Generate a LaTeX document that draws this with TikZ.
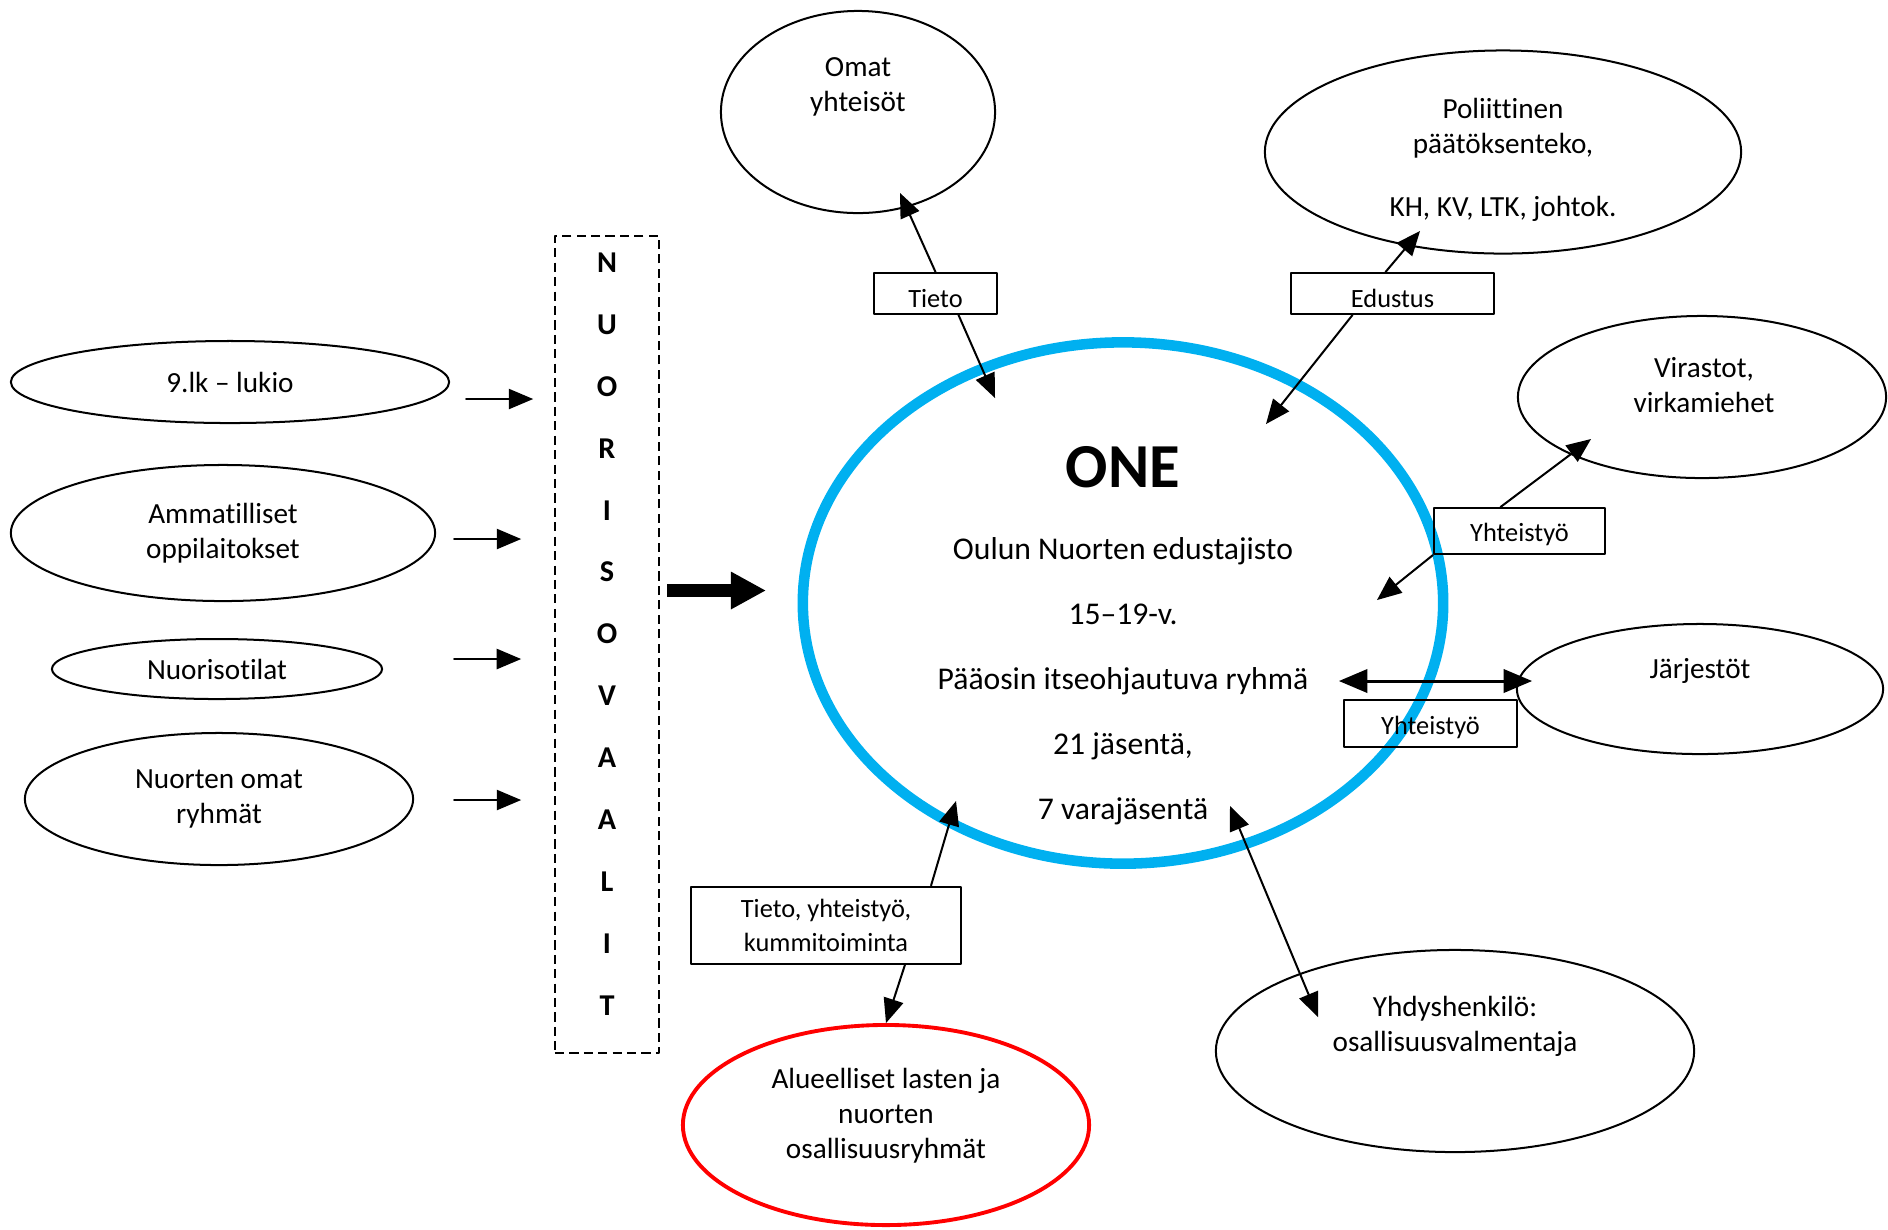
\documentclass[tikz,border=0pt]{standalone}
\usepackage{fontspec}
\setmainfont{Carlito}[Ligatures={TeX,NoCommon}]
\usepackage{tikz}
\usetikzlibrary{shapes,arrows,arrows.meta,shapes.misc,shapes.symbols}
\usetikzlibrary{positioning}

\definecolor{onesininen}{RGB}{0,176,240}
\definecolor{aluepunainen}{RGB}{255,0,0}

\tikzset{
	pallo/.style={draw,ellipse,line width=0.57pt,inner sep=0pt,align=center,
		font=\fontsize{8.3}{10}\selectfont},
	teksti/.style={inner sep=0pt,align=center,font=\fontsize{8.3}{10}\selectfont},
	laatikko/.style={draw,rectangle,line width=0.57pt,inner sep=0pt,
		font=\fontsize{7.5}{9.7}\selectfont},
	nuoli/.style={->,line width=0.57pt},
	kaksinuoli/.style={<->,line width=0.57pt}
}

\begin{document}
\begin{tikzpicture}[line cap=round,line join=round,>
		=triangle 
		45,x=0.01cm,y=-0.01cm]
		\useasboundingbox (0,0) rectangle (1888,1229);
		% vasen sarake
		\node[pallo,minimum width=4.38cm,minimum height=0.82cm] (lukio) at (230,382) {9.lk – lukio};
		\node[pallo,minimum width=4.24cm,minimum height=1.36cm] (ammat) at (223,533) {Ammatilliset\\oppilaitokset};
		\node[pallo,minimum width=3.30cm,minimum height=0.60cm] (tilat) at (217,669) {Nuorisotilat};
		\node[pallo,minimum width=3.88cm,minimum height=1.32cm] (ryhmat) at (219,799) {Nuorten omat\\ryhmät};
		\draw[nuoli] ([shift={(16,17)}]lukio.east) -- ++(67,0);
		\draw[nuoli] ([shift={(18,6)}]ammat.east) -- ++(67,0);
		\draw[nuoli] ([shift={(71,-10)}]tilat.east) -- ++(67,0);
		\draw[nuoli] ([shift={(40,1)}]ryhmat.east) -- ++(67,0);
		% nuorisovaalit
		\node[draw,line width=0.57pt,line cap=butt,dash pattern=on 2.6pt off 1.5pt,
		minimum width=1.04cm,minimum height=8.17cm] (vaalit) at (607,644.5) {};
		\node[inner sep=0pt,align=center,font=\bfseries\fontsize{8.6}{17.6}\selectfont] (kirjaimet) at (607,634)
		{N\\U\\O\\R\\I\\S\\O\\V\\A\\A\\L\\I\\T};
		\draw[-{Triangle[length=10pt,width=10pt]},line width=3.7pt,line cap=butt] ([shift={(7,-54)}]vaalit.east) -- ++(99,0);
		% ONE
		\node[ellipse,draw=onesininen,line width=3pt,minimum width=6.40cm,minimum height=5.21cm] (one) at (1123,603) {};
		\node[inner sep=0pt,font=\bfseries\fontsize{17.8}{20}\selectfont] (nimi) at (1123,467) {ONE};
		\node[inner sep=0pt,align=center,font=\fontsize{9}{18.5}\selectfont] (kuvaus) at (1123,681)
		{Oulun Nuorten edustajisto\\15–19-v.\\Pääosin itseohjautuva ryhmä\\21 jäsentä,\\7 varajäsentä};
		% ympäröivät
		\node[pallo,minimum width=2.74cm,minimum height=2.02cm] (omat) at (858,112) {};
		\node[teksti] (omatT) at (858,87) {Omat\\yhteisöt};
		\node[pallo,minimum width=4.76cm,minimum height=2.03cm] (poli) at (1503,152) {};
		\node[teksti] (poliT) at (1503,160) {Poliittinen\\päätöksenteko,\\[7.9pt]KH, KV, LTK, johtok.};
		\node[pallo,minimum width=3.68cm,minimum height=1.62cm] (vir) at (1702,397) {};
		\node[teksti] (virT) at (1704,385) {Virastot,\\virkamiehet};
		\node[pallo,minimum width=3.66cm,minimum height=1.30cm] (jarj) at (1700,689) {};
		\node[teksti] (jarjT) at (1700,671) {Järjestöt};
		\node[pallo,minimum width=4.78cm,minimum height=2.02cm] (yhdys) at (1455,1051) {};
		\node[teksti] (yhdysT) at (1455,1026) {Yhdyshenkilö:\\osallisuusvalmentaja};
		\node[pallo,draw=aluepunainen,line width=1.1pt,minimum width=4.06cm,minimum height=2.00cm] (alue) at (886,1125) {};
		\node[teksti] (alueT) at (886,1116) {Alueelliset lasten ja\\nuorten\\osallisuusryhmät};
		% laatikot
		\node[laatikko,minimum width=1.23cm,minimum height=0.41cm,text height=8.2pt,text depth=0pt] (tieto) at (935.5,293.5) {Tieto};
		\node[laatikko,minimum width=2.03cm,minimum height=0.41cm,text height=8.2pt,text depth=0pt] (edustus) at (1392.5,293.5) {Edustus};
		\node[laatikko,minimum width=1.71cm,minimum height=0.46cm,text height=6pt,text depth=0pt] (yht1) at (1519.5,531) {Yhteistyö};
		\node[laatikko,minimum width=1.73cm,minimum height=0.47cm,text height=6pt,text depth=0pt] (yht2) at (1430.5,723.5) {Yhteistyö};
		\node[laatikko,align=center,minimum width=2.70cm,minimum height=0.77cm] (kummi) at (826,925) {Tieto, yhteistyö,\\kummitoiminta};
		% kärjet
		\coordinate (omatK) at (900,193);
		\coordinate (oneA) at (995,398);
		\coordinate (poliK) at (1420,231);
		\coordinate (oneB) at (1266,424);
		\coordinate (virK) at (1591,439);
		\coordinate (oneC) at (1377,600);
		\coordinate (oneD) at (1339,681);
		\coordinate (jarjK) at (1532,681);
		\coordinate (oneE) at (956,801);
		\coordinate (oneF) at (1230,806);
		\coordinate (yhdysK) at (1318,1017);
		\draw[nuoli] (tieto.north) -- (omatK);
		\draw[nuoli] ([xshift=0.23cm]tieto.south) -- (oneA);
		\draw[nuoli] ([xshift=-0.07cm]edustus.north) -- (poliK);
		\draw[nuoli] ([xshift=-0.40cm]edustus.south) -- (oneB);
		\draw[nuoli] ([xshift=-0.19cm]yht1.north) -- (virK);
		\draw[nuoli] (yht1.south west) -- (oneC);
		\draw[<->,line width=0.85pt] (oneD) -- (jarjK);
		\draw[nuoli] ([xshift=-0.31cm]kummi.north east) -- (oneE);
		\draw[nuoli] ([xshift=-0.57cm]kummi.south east) -- (alue.north);
		\draw[kaksinuoli] (oneF) -- (yhdysK);
\end{tikzpicture}
\end{document}
